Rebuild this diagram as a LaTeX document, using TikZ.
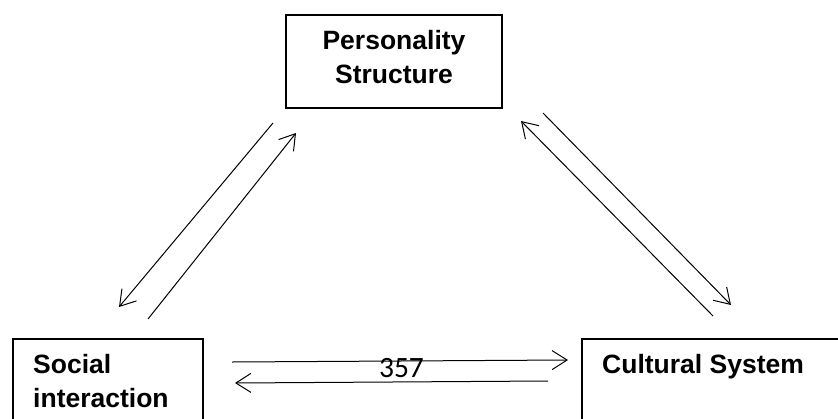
\documentclass[tikz,border=0pt]{standalone}
\usepackage{fontspec}
\setmainfont{Liberation Sans}
\newfontfamily\numfont{Carlito}
\usetikzlibrary{arrows.meta}
\begin{document}
\begin{tikzpicture}[x=1pt,y=-1pt,
  box/.style={draw, line width=1.5pt, rectangle, inner sep=0pt},
  lbl/.style={font=\fontsize{26.5}{34}\selectfont\bfseries, inner sep=0pt},
  link/.style={line width=1pt, -{Straight Barb[length=15pt,width=19pt,line width=1pt]}}]
\useasboundingbox (0,0) rectangle (838,418);
\clip (0,0) rectangle (838,418);
% boxes
\node[box, minimum width=216pt, minimum height=93pt] (ps) at (394,61.5) {};
\node[box, minimum width=190pt, minimum height=100pt, anchor=north west] (si) at (12,338) {};
\node[box, minimum width=270pt, minimum height=100pt, anchor=north west] (cs) at (581,338) {};
% labels
\node[lbl, anchor=base] (ps1) at (394,49) {Personality};
\node[lbl, anchor=base] (ps2) at (394,83) {Structure};
\node[lbl, anchor=base west] (si1) at (33,373) {Social};
\node[lbl, anchor=base west] (si2) at (33,407) {interaction};
\node[lbl, anchor=base west] (cs1) at (602,373) {Cultural System};
\node[inner sep=0pt, anchor=base, font=\numfont\fontsize{29.5}{32}\selectfont] (num) at (401.5,377) {357};
% connector end points
\coordinate (a1) at (273,123); \coordinate (a2) at (119,307);
\coordinate (b1) at (148,319); \coordinate (b2) at (296,133);
\coordinate (c1) at (713,316); \coordinate (c2) at (521,121);
\coordinate (d1) at (543,113); \coordinate (d2) at (731,305);
\coordinate (e1) at (232,362); \coordinate (e2) at (568,360);
\coordinate (f1) at (548,381); \coordinate (f2) at (235,383);
\draw[link] (a1) -- (a2);
\draw[link] (b1) -- (b2);
\draw[link] (c1) -- (c2);
\draw[link] (d1) -- (d2);
\draw[link] (e1) -- (e2);
\draw[link] (f1) -- (f2);
\end{tikzpicture}
\end{document}
